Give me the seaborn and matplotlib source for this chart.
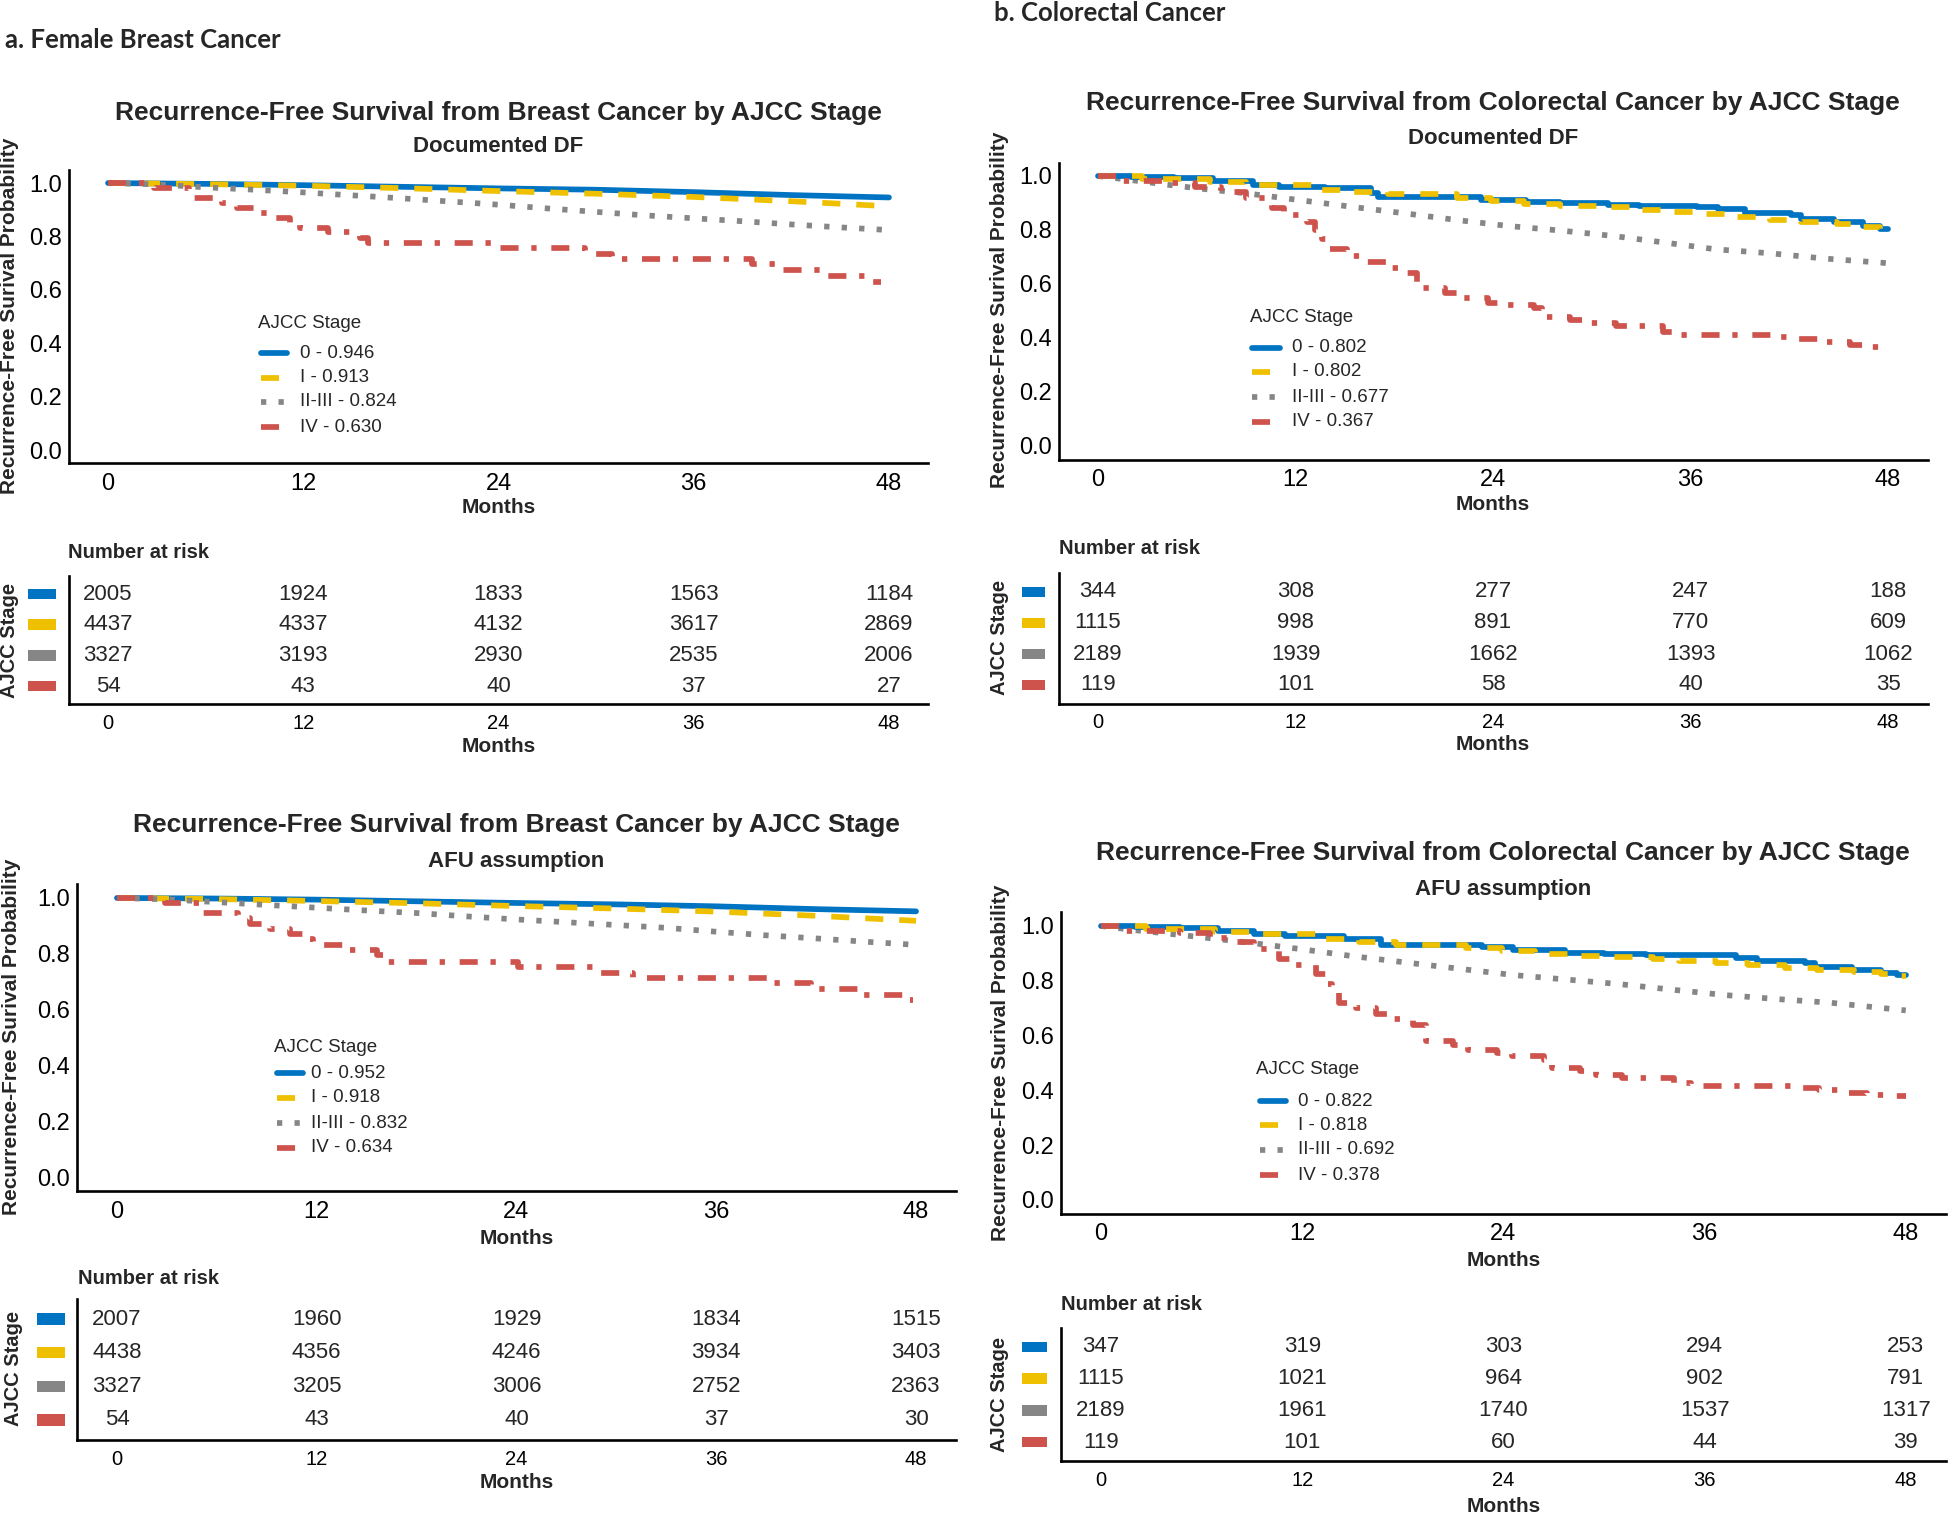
import matplotlib
matplotlib.use("Agg")
import matplotlib.pyplot as plt
import matplotlib.transforms as mtransforms
from matplotlib.lines import Line2D
from matplotlib.patches import Rectangle
import pandas as pd
import seaborn as sns

# ---------------- data ----------------
stages = ["0", "I", "II-III", "IV"]
month_ticks = [0, 12, 24, 36, 48]
surv_ticks = [0.0, 0.2, 0.4, 0.6, 0.8, 1.0]

# breast cancer, documented DF  (month, survival)
bc_df_0 = [(0, 1.0), (6, 0.997), (12, 0.992), (18, 0.986), (24, 0.980), (30, 0.975),
           (36, 0.966), (42, 0.955), (48, 0.946)]
bc_df_1 = [(0, 1.0), (6, 0.996), (12, 0.990), (18, 0.981), (24, 0.970), (30, 0.960),
           (36, 0.948), (42, 0.932), (48, 0.913)]
bc_df_23 = [(0, 1.0), (3, 0.995), (6, 0.984), (9, 0.975), (12, 0.965), (15, 0.954),
            (18, 0.943), (21, 0.931), (24, 0.919), (27, 0.905), (30, 0.892), (33, 0.879),
            (36, 0.868), (39, 0.857), (42, 0.845), (45, 0.834), (48, 0.824)]
bc_df_4 = [(0, 1.0), (2.8, 0.981), (5.0, 0.944), (7.0, 0.926), (7.9, 0.907), (9.1, 0.889),
           (10.3, 0.870), (11.2, 0.852), (11.8, 0.833), (13.5, 0.815), (15.5, 0.796),
           (16.0, 0.774), (24.1, 0.755), (29.3, 0.735), (31.0, 0.716), (39.6, 0.697),
           (41.4, 0.676), (44.0, 0.652), (47.0, 0.630), (47.5, 0.630)]

# breast cancer, AFU assumption
bc_afu_0 = [(0, 1.0), (6, 0.998), (12, 0.994), (18, 0.988), (24, 0.982), (30, 0.977),
            (36, 0.970), (42, 0.960), (48, 0.952)]
bc_afu_1 = [(0, 1.0), (6, 0.996), (12, 0.989), (18, 0.981), (24, 0.971), (30, 0.962),
            (36, 0.951), (42, 0.936), (48, 0.918)]
bc_afu_23 = [(0, 1.0), (3, 0.995), (6, 0.985), (9, 0.975), (12, 0.965), (15, 0.955),
             (18, 0.946), (21, 0.934), (24, 0.923), (27, 0.913), (30, 0.903), (33, 0.893),
             (36, 0.879), (39, 0.866), (42, 0.855), (45, 0.843), (48, 0.832)]
bc_afu_4 = [(0, 1.0), (2.9, 0.981), (5.1, 0.945), (7.3, 0.927), (8.0, 0.907), (9.2, 0.890),
            (10.4, 0.870), (11.2, 0.852), (11.8, 0.833), (13.7, 0.813), (15.6, 0.795),
            (16.2, 0.770), (24.1, 0.752), (29.0, 0.730), (31.0, 0.712), (39.3, 0.695),
            (41.7, 0.675), (44.5, 0.652), (47.3, 0.634), (47.8, 0.634)]

# colorectal cancer, documented DF
crc_df_0 = [(0, 1.0), (2, 0.996), (4.6, 0.991), (7, 0.982), (9.4, 0.968), (11, 0.960),
            (13.8, 0.954), (16.6, 0.936), (17, 0.924), (23.3, 0.912), (26, 0.905),
            (28.1, 0.899), (31, 0.892), (32.9, 0.889), (36.4, 0.886), (37.7, 0.876),
            (39.3, 0.864), (42.1, 0.855), (42.7, 0.840), (44.7, 0.830), (46.5, 0.815),
            (47.5, 0.805), (48, 0.805)]
crc_df_1 = [(0, 1.0), (2.7, 0.990), (6.8, 0.978), (9, 0.968), (13.2, 0.950), (15.4, 0.940),
            (17.6, 0.932), (21.8, 0.918), (23.9, 0.907), (25.9, 0.897), (28.1, 0.889),
            (30.3, 0.884), (32.9, 0.875), (34.5, 0.868), (36.7, 0.858), (38.6, 0.848),
            (40.8, 0.838), (42.7, 0.831), (44.9, 0.822), (46.5, 0.812), (47.5, 0.802),
            (48, 0.802)]
crc_df_23 = [(0, 1.0), (2, 0.985), (4.3, 0.967), (6.7, 0.950), (9, 0.936), (12.2, 0.911),
             (15.4, 0.886), (18.6, 0.862), (21.8, 0.837), (24.9, 0.815), (28.1, 0.798),
             (31.3, 0.778), (34.5, 0.753), (37.6, 0.728), (40.8, 0.714), (44, 0.695), (48, 0.677)]
crc_df_4 = [(0, 1.0), (1.5, 0.983), (4.5, 0.975), (5.9, 0.958), (7.5, 0.940), (9.0, 0.917),
            (10.6, 0.880), (11.3, 0.857), (12.7, 0.830), (13.2, 0.800), (13.6, 0.765),
            (14.0, 0.730), (15.1, 0.704), (16.3, 0.680), (17.6, 0.660), (18.7, 0.642),
            (19.4, 0.584), (21.1, 0.566), (21.9, 0.548), (23.7, 0.531), (24.6, 0.522),
            (26.5, 0.510), (27.0, 0.479), (28.7, 0.468), (29.7, 0.454), (31.5, 0.444),
            (34.3, 0.424), (35.2, 0.411), (41.3, 0.404), (42.5, 0.396), (44.0, 0.387),
            (45.7, 0.375), (46.7, 0.367), (48, 0.367)]

# colorectal cancer, AFU assumption
crc_afu_0 = [(0, 1.0), (2, 0.996), (4.7, 0.991), (7, 0.982), (9.1, 0.970), (11, 0.962),
             (14.5, 0.951), (16.7, 0.931), (22.7, 0.922), (24.6, 0.912), (27.7, 0.903),
             (30, 0.898), (32.5, 0.895), (36.3, 0.893), (37.9, 0.882), (39.1, 0.874),
             (42, 0.866), (42.6, 0.852), (44.8, 0.840), (46.5, 0.830), (47.5, 0.822),
             (48, 0.822)]
crc_afu_1 = [(0, 1.0), (2.7, 0.990), (6.8, 0.978), (9, 0.969), (13.2, 0.952), (15.4, 0.942),
             (17.6, 0.932), (21.8, 0.918), (23.9, 0.908), (25.9, 0.898), (28.1, 0.891),
             (30.3, 0.886), (32.9, 0.878), (34.5, 0.872), (36.7, 0.865), (38.6, 0.856),
             (40.8, 0.848), (42.7, 0.840), (44.9, 0.832), (46.5, 0.824), (47.5, 0.818),
             (48, 0.818)]
crc_afu_23 = [(0, 1.0), (2, 0.985), (4, 0.972), (5.7, 0.961), (9, 0.938), (12, 0.915),
              (15, 0.890), (18.3, 0.866), (21.5, 0.843), (24.6, 0.821), (27.7, 0.805),
              (30.9, 0.788), (34, 0.768), (37.2, 0.748), (40.4, 0.733), (43.5, 0.720), (48, 0.692)]
crc_afu_4 = [(0, 1.0), (1.5, 0.983), (4.7, 0.975), (6.5, 0.958), (7.8, 0.940), (9.1, 0.915),
             (10.6, 0.880), (11.3, 0.857), (12.8, 0.825), (13.4, 0.790), (13.8, 0.755),
             (14.2, 0.720), (15.2, 0.700), (16.4, 0.680), (17.5, 0.660), (18.6, 0.640),
             (19.4, 0.581), (21.0, 0.566), (21.9, 0.548), (23.6, 0.535), (24.5, 0.527),
             (26.4, 0.512), (26.9, 0.481), (28.6, 0.470), (29.5, 0.458), (31.1, 0.447),
             (32.5, 0.444), (34.2, 0.428), (35.2, 0.416), (41.5, 0.408), (42.8, 0.400),
             (44.3, 0.390), (45.7, 0.385), (46.8, 0.378), (48, 0.378)]

# legend labels (stage - survival at 48 months)
bc_df_labels = ["0 - 0.946", "I - 0.913", "II-III - 0.824", "IV - 0.630"]
bc_afu_labels = ["0 - 0.952", "I - 0.918", "II-III - 0.832", "IV - 0.634"]
crc_df_labels = ["0 - 0.802", "I - 0.802", "II-III - 0.677", "IV - 0.367"]
crc_afu_labels = ["0 - 0.822", "I - 0.818", "II-III - 0.692", "IV - 0.378"]

# number at risk
bc_df_risk = [[2005, 1924, 1833, 1563, 1184], [4437, 4337, 4132, 3617, 2869],
              [3327, 3193, 2930, 2535, 2006], [54, 43, 40, 37, 27]]
bc_afu_risk = [[2007, 1960, 1929, 1834, 1515], [4438, 4356, 4246, 3934, 3403],
               [3327, 3205, 3006, 2752, 2363], [54, 43, 40, 37, 30]]
crc_df_risk = [[344, 308, 277, 247, 188], [1115, 998, 891, 770, 609],
               [2189, 1939, 1662, 1393, 1062], [119, 101, 58, 40, 35]]
crc_afu_risk = [[347, 319, 303, 294, 253], [1115, 1021, 964, 902, 791],
                [2189, 1961, 1740, 1537, 1317], [119, 101, 60, 44, 39]]

# ---------------- style ----------------
palette = {"0": "#0073C2", "I": "#EFC000", "II-III": "#868686", "IV": "#CD534C"}
dash_map = {"0": "", "I": (13, 11.5), "II-III": (3.8, 8.8), "IV": (13, 9.2, 3.8, 10.6)}
LW = 4.1

sns.set_style("white")
plt.rcParams["font.family"] = ["Liberation Sans", "DejaVu Sans"]
plt.rcParams["lines.scale_dashes"] = False

W, H = 1950, 1516
fig = plt.figure(figsize=(W / 100, H / 100), dpi=100)


def box(rect):
    l, t, r, b = rect
    return fig.add_axes([l / W, 1 - b / H, (r - l) / W, (b - t) / H])


def ftext(x, y, s, **kw):
    kw.setdefault("ha", "center")
    kw.setdefault("va", "center")
    fig.text(x / W, 1 - y / H, s, **kw)


def axis_style(ax, tick_size, xpad):
    sns.despine(ax=ax)
    for sp in ("left", "bottom"):
        ax.spines[sp].set_linewidth(1.9)
        ax.spines[sp].set_color("black")
    ax.tick_params(axis="both", length=3, width=1.3, colors="black",
                   labelsize=tick_size, direction="out")
    ax.tick_params(axis="x", pad=xpad)
    ax.tick_params(axis="y", pad=2)
    ax.set_xlabel("")
    ax.set_ylabel("")
    ax.set_facecolor("none")


def km_panel(rect, curves, stepped, title, subtitle, labels, title_y, sub_y, ylab_xy,
             xlab_y, leg):
    ax = box(rect)
    rows = []
    for st, pts in zip(stages, curves):
        for t, s in pts:
            rows.append((st, t, s))
    df = pd.DataFrame(rows, columns=["stage", "month", "surv"])
    # large groups look smooth, small groups show their steps
    smooth = df[~df["stage"].isin(stepped)]
    steps = df[df["stage"].isin(stepped)]
    common = dict(x="month", y="surv", hue="stage", style="stage", hue_order=stages,
                  style_order=stages, palette=palette, dashes=dash_map, estimator=None,
                  linewidth=LW, legend=False, ax=ax)
    if len(smooth):
        sns.lineplot(data=smooth, **common)
    sns.lineplot(data=steps, drawstyle="steps-post", **common)
    ax.set_xlim(-2.4, 50.4)
    ax.set_ylim(-0.05, 1.05)
    ax.set_xticks(month_ticks)
    ax.set_yticks(surv_ticks)
    ax.set_yticklabels([f"{v:.1f}" for v in surv_ticks])
    axis_style(ax, 17, 4)
    cx = (rect[0] + rect[2]) / 2
    ftext(cx, title_y, title, fontsize=19, fontweight="bold")
    ftext(cx, sub_y, subtitle, fontsize=16, fontweight="bold")
    ftext(ylab_xy[0], ylab_xy[1], "Recurrence-Free Surival Probability", rotation=90,
          fontsize=15, fontweight="bold")
    ftext(cx, xlab_y, "Months", fontsize=15, fontweight="bold")
    # legend
    lx, ly, ys, h0, h1, tx = leg
    ftext(lx, ly, "AJCC Stage", ha="left", fontsize=13.5)
    for st, lab, yy in zip(stages, labels, ys):
        ln = Line2D([h0 / W, h1 / W], [1 - yy / H, 1 - yy / H], transform=fig.transFigure,
                    color=palette[st], linewidth=LW)
        if dash_map[st]:
            ln.set_dashes(dash_map[st])
        fig.add_artist(ln)
        ftext(tx, yy, lab, ha="left", fontsize=13.5)
    return ax


def risk_panel(rect, counts, head_xy, ylab_xy, xlab_y, bar_x):
    ax = box(rect)
    trans = mtransforms.blended_transform_factory(ax.transAxes, ax.transData)
    x0 = (bar_x[0] - rect[0]) / (rect[2] - rect[0])
    x1 = (bar_x[1] - rect[0]) / (rect[2] - rect[0])
    for i, (st, row) in enumerate(zip(stages, counts)):
        yrow = 4 - i
        for t, n in zip(month_ticks, row):
            ax.text(t, yrow, str(n), ha="center", va="center", fontsize=16)
        ax.add_patch(Rectangle((x0, yrow - 0.17), x1 - x0, 0.34, transform=trans,
                               color=palette[st], clip_on=False, lw=0))
    ax.set_xlim(-2.4, 50.4)
    ax.set_ylim(0.4, 4.6)
    ax.set_xticks(month_ticks)
    ax.set_yticks([])
    axis_style(ax, 14.5, 4)
    cx = (rect[0] + rect[2]) / 2
    ftext(head_xy[0], head_xy[1], "Number at risk", ha="left", fontsize=14.5,
          fontweight="bold")
    ftext(ylab_xy[0], ylab_xy[1], "AJCC Stage", rotation=90, fontsize=14.5,
          fontweight="bold")
    ftext(cx, xlab_y, "Months", fontsize=15, fontweight="bold")
    return ax


# ---------------- panels ----------------
km_panel((69, 169.7, 928, 463.4), [bc_df_0, bc_df_1, bc_df_23, bc_df_4], ["IV"],
         "Recurrence-Free Survival from Breast Cancer by AJCC Stage", "Documented DF",
         bc_df_labels, 113, 147, (10, 316), 508,
         (258, 323, [353, 378, 402, 427], 261, 287, 300))
risk_panel((69, 575.6, 928, 704.4), bc_df_risk, (68, 552), (10, 640), 747, (28, 56))

km_panel((1058.5, 162.5, 1927.5, 459.5), [crc_df_0, crc_df_1, crc_df_23, crc_df_4],
         ["0", "I", "IV"],
         "Recurrence-Free Survival from Colorectal Cancer by AJCC Stage", "Documented DF",
         crc_df_labels, 103, 139, (1000, 310), 505,
         (1250, 318, [348, 372, 397, 422], 1252, 1280, 1292))
risk_panel((1058.5, 573.4, 1927.5, 703.6), crc_df_risk, (1059, 549), (1000, 637), 745,
           (1022, 1045))

km_panel((77, 884, 956, 1191), [bc_afu_0, bc_afu_1, bc_afu_23, bc_afu_4], ["IV"],
         "Recurrence-Free Survival from Breast Cancer by AJCC Stage", "AFU assumption",
         bc_afu_labels, 825, 862, (12, 1037), 1238,
         (274, 1047, [1073, 1098, 1123, 1148], 277, 303, 311))
risk_panel((77, 1299, 956, 1440), bc_afu_risk, (78, 1278), (14, 1368), 1483, (37, 65))

km_panel((1060.75, 912.3, 1946, 1213.7), [crc_afu_0, crc_afu_1, crc_afu_23, crc_afu_4],
         ["0", "I", "IV"],
         "Recurrence-Free Survival from Colorectal Cancer by AJCC Stage", "AFU assumption",
         crc_afu_labels, 853, 889, (1001, 1063), 1260,
         (1256, 1070, [1101, 1125, 1150, 1175], 1260, 1286, 1298))
risk_panel((1060.75, 1328, 1946, 1461), crc_afu_risk, (1061, 1305), (1000, 1394), 1506,
           (1022, 1047))

ftext(5, 40, "a. Female Breast Cancer", ha="left", fontsize=18.5, fontweight="bold",
      family=["Lato", "DejaVu Sans"])
ftext(994, 13, "b. Colorectal Cancer", ha="left", fontsize=18.5, fontweight="bold",
      family=["Lato", "DejaVu Sans"])

fig.savefig("out.png", dpi=100)
